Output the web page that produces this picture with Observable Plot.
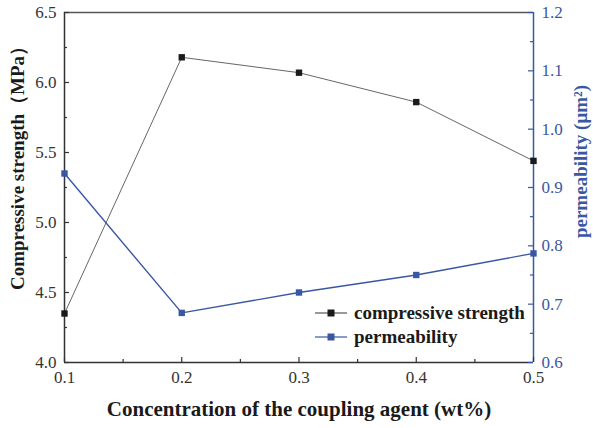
<!DOCTYPE html>
<html>
<head>
<meta charset="utf-8">
<script src="https://cdn.jsdelivr.net/npm/d3@7"></script>
<script src="https://cdn.jsdelivr.net/npm/@observablehq/plot@0.6"></script>
<style>
  body { margin: 0; background: #fff; }
  #chart { position: relative; width: 593px; height: 428px; }
  .legend { position: absolute; left: 314px; top: 301px; font: bold 19px "Liberation Serif", serif; color: #1a1a1a; }
  .legend div { display: flex; align-items: center; height: 24px; }
  .legend svg { margin-right: 6px; }
</style>
</head>
<body>
<div id="chart"></div>
<script>
const concentration = [0.1, 0.2, 0.3, 0.4, 0.5];
const strength = [4.35, 6.18, 6.07, 5.86, 5.44];
const permeability = [0.924, 0.685, 0.72, 0.75, 0.787];

const xTicks = [0.1, 0.2, 0.3, 0.4, 0.5];
const xMinor = [0.15, 0.25, 0.35, 0.45];
const leftTicks = [4.0, 4.5, 5.0, 5.5, 6.0, 6.5];
const leftMinor = [4.25, 4.75, 5.25, 5.75, 6.25];
const rightTicks = [0.6, 0.7, 0.8, 0.9, 1.0, 1.1, 1.2];
const rightMinor = [0.65, 0.75, 0.85, 0.95, 1.05, 1.15];

const leftDomain = [4.0, 6.5];
const rightDomain = [0.6, 1.2];
const toLeft = (p) => leftDomain[0] + (p - rightDomain[0]) * (leftDomain[1] - leftDomain[0]) / (rightDomain[1] - rightDomain[0]);
const fromLeft = (v) => rightDomain[0] + (v - leftDomain[0]) * (rightDomain[1] - rightDomain[0]) / (leftDomain[1] - leftDomain[0]);

const strengthData = concentration.map((c, i) => ({ c, v: strength[i] }));
const permData = concentration.map((c, i) => ({ c, v: toLeft(permeability[i]) }));

const blue = "#3a57a3";
const dark = "#333";
const serif = "'Liberation Serif', 'Times New Roman', serif";
const W = 593, H = 428, mL = 64, mR = 60, mT = 12, mB = 66;
const pw = W - mL - mR, ph = H - mT - mB;

const chart = Plot.plot({
  width: W,
  height: H,
  marginLeft: mL,
  marginRight: mR,
  marginTop: mT,
  marginBottom: mB,
  style: { fontFamily: serif, background: "#fff" },
  x: { domain: [0.1, 0.5] },
  y: { domain: leftDomain },
  marks: [
    // frame
    Plot.ruleY([leftDomain[1]], { stroke: "#555", strokeWidth: 1.5 }),
    Plot.ruleY([leftDomain[0]], { stroke: dark, strokeWidth: 1.5 }),
    Plot.ruleX([0.1], { stroke: dark, strokeWidth: 1.5 }),
    Plot.ruleX([0.5], { stroke: blue, strokeWidth: 1.5 }),
    // inward ticks
    Plot.tickY(leftTicks, { y: (d) => d, insetRight: pw - 5, stroke: dark, strokeWidth: 1.2 }),
    Plot.tickY(leftMinor, { y: (d) => d, insetRight: pw - 3, stroke: dark, strokeWidth: 1.2 }),
    Plot.tickY(rightTicks.map(toLeft), { y: (d) => d, insetLeft: pw - 5, stroke: blue, strokeWidth: 1.2 }),
    Plot.tickY(rightMinor.map(toLeft), { y: (d) => d, insetLeft: pw - 3, stroke: blue, strokeWidth: 1.2 }),
    Plot.tickX(xTicks, { x: (d) => d, insetTop: ph - 5, stroke: dark, strokeWidth: 1.2 }),
    Plot.tickX(xMinor, { x: (d) => d, insetTop: ph - 3, stroke: dark, strokeWidth: 1.2 }),
    // tick labels
    Plot.axisX(xTicks, { tickSize: 0, tickPadding: 8, fontSize: 17, fontFamily: serif, color: dark, label: null, tickFormat: (d) => d.toFixed(1) }),
    Plot.axisY(leftTicks, { anchor: "left", tickSize: 0, tickPadding: 8, fontSize: 17, fontFamily: serif, color: dark, label: null, tickFormat: (d) => d.toFixed(1) }),
    Plot.axisY(rightTicks.map(toLeft), { anchor: "right", tickSize: 0, tickPadding: 8, fontSize: 17, fontFamily: serif, color: blue, label: null, tickFormat: (d) => fromLeft(d).toFixed(1) }),
    // axis titles
    Plot.text(["Concentration of the coupling agent (wt%)"], { frameAnchor: "bottom", dy: 53, text: (d) => d, fontSize: 21, fontWeight: "bold", fontFamily: serif, fill: "#1a1a1a" }),
    Plot.text(["Compressive strength（MPa）"], { frameAnchor: "left", textAnchor: "middle", dx: -47, dy: -24, rotate: -90, text: (d) => d, fontSize: 19, fontWeight: "bold", fontFamily: serif, fill: "#1a1a1a" }),
    Plot.text(["permeability (μm²)"], { frameAnchor: "right", textAnchor: "middle", dx: 47, dy: -26, rotate: -90, text: (d) => d, fontSize: 19, fontWeight: "bold", fontFamily: serif, fill: blue }),
    // series
    Plot.line(strengthData, { x: "c", y: "v", stroke: "#555", strokeWidth: 0.9 }),
    Plot.dot(strengthData, { x: "c", y: "v", symbol: "square", r: 3.6, fill: "#1a1a1a", stroke: null }),
    Plot.line(permData, { x: "c", y: "v", stroke: blue, strokeWidth: 1.4 }),
    Plot.dot(permData, { x: "c", y: "v", symbol: "square", r: 3.6, fill: blue, stroke: null })
  ]
});

const host = document.getElementById("chart");
host.appendChild(chart);

const legendItems = [
  { label: "compressive strength", line: "#555", fill: "#1a1a1a" },
  { label: "permeability", line: blue, fill: blue }
];
const legend = document.createElement("div");
legend.className = "legend";
legend.innerHTML = legendItems.map((d) =>
  `<div><svg width="34" height="10"><line x1="1" x2="33" y1="5" y2="5" stroke="${d.line}" stroke-width="1.2"/><rect x="13.5" y="1.5" width="7" height="7" fill="${d.fill}"/></svg>${d.label}</div>`
).join("");
host.appendChild(legend);
</script>
</body>
</html>
